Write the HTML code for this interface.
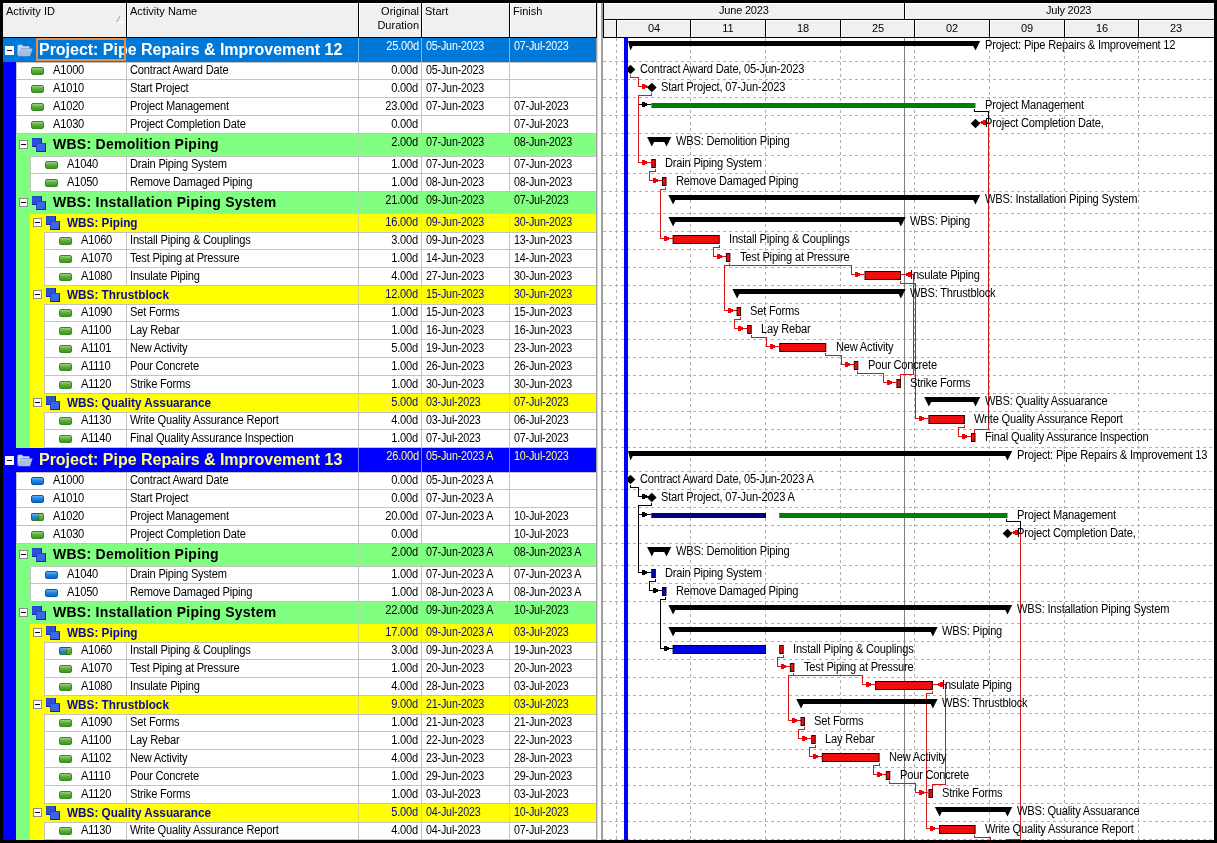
<!DOCTYPE html>
<html lang="en"><head><meta charset="utf-8"><title>Activities</title>
<style>
html,body{margin:0;padding:0;}
body{width:1217px;height:843px;background:#000;position:relative;overflow:hidden;font-family:"Liberation Sans",Arial,sans-serif;font-size:11px;color:#000;}
div,span{position:absolute;box-sizing:border-box;white-space:nowrap;}
.t{font-size:12px;letter-spacing:-0.22px;line-height:14px;height:14px;transform:scaleX(0.925);transform-origin:0 0;}
.t.r{text-align:right;transform-origin:100% 0;}
.t.c{text-align:center;transform-origin:50% 0;}
.t.d{transform:scaleX(0.895);}
.h{font-size:11px;line-height:14px;height:14px;}
.h.r{text-align:right;}
.h.c{text-align:center;}
.b{font-weight:bold;}
.hd{background:#f0f0f0;}
.ex{width:9px;height:9px;background:#fff;border:1px solid #8c8c8c;}
.ex i{position:absolute;left:1px;top:3px;width:5px;height:1px;background:#000;}
.ic{width:13px;height:8px;border-radius:2px;border:1px solid #3a8a22;background:linear-gradient(#9ed27f,#5cae3c 45%,#3f9524);}
.ic.b{border-color:#0a58b0;background:linear-gradient(#5cb4f5,#1f86e2 45%,#0868cc);}
.ic.h{border-color:#0a58b0 #3a8a22 #2f7d1c #0a58b0;background:linear-gradient(rgba(255,255,255,.35),rgba(255,255,255,0) 50%,rgba(0,0,0,.12)),linear-gradient(90deg,#1f86e2 58%,#2f7d1c 58%,#2f7d1c 66%,#5cae3c 66%);}
.w1,.w2{width:10px;height:9px;border:1px solid;border-color:#2747cc #14248c #14248c #2747cc;background:#3a66ee;}
.w1{background:#2b51da;}
svg{position:absolute;left:0;top:0;}
</style></head><body>

<div style="left:3px;top:3px;width:594px;height:837px;background:#fff;"></div>
<div class="hd" style="left:3px;top:3px;width:594px;height:34px;"></div>
<div style="left:3px;top:3px;width:594px;height:1px;background:#fff;"></div>
<div style="left:3px;top:37px;width:594px;height:1px;background:#000;"></div>
<div style="left:126px;top:3px;width:1px;height:34px;background:#000;"></div>
<div style="left:127px;top:4px;width:1px;height:33px;background:#fff;"></div>
<div style="left:358px;top:3px;width:1px;height:34px;background:#000;"></div>
<div style="left:359px;top:4px;width:1px;height:33px;background:#fff;"></div>
<div style="left:421px;top:3px;width:1px;height:34px;background:#000;"></div>
<div style="left:422px;top:4px;width:1px;height:33px;background:#fff;"></div>
<div style="left:509px;top:3px;width:1px;height:34px;background:#000;"></div>
<div style="left:510px;top:4px;width:1px;height:33px;background:#fff;"></div>
<div style="left:596px;top:3px;width:1px;height:35px;background:#000;"></div>
<svg width="1217" height="40" style="pointer-events:none"><path d="M116.5 22.5 L120 16 L123.5 22.5" fill="none" stroke="#fff" stroke-width="1"/><path d="M116.5 22.5 L120 16" fill="none" stroke="#9a9a9a" stroke-width="1"/><path d="M116.5 22.5 H123.5" fill="none" stroke="#fff"/></svg>
<div class="h" style="left:6px;top:4px;">Activity ID</div>
<div class="h" style="left:130px;top:4px;">Activity Name</div>
<div class="h r" style="left:362px;top:4px;width:57px;">Original</div>
<div class="h r" style="left:362px;top:18px;width:57px;">Duration</div>
<div class="h" style="left:425px;top:4px;">Start</div>
<div class="h" style="left:513px;top:4px;">Finish</div>
<div style="left:3px;top:38px;width:593px;height:24px;background:#0078d7;"></div>
<div style="left:358px;top:38px;width:1px;height:24px;background:rgba(255,255,255,0.45);"></div>
<div style="left:421px;top:38px;width:1px;height:24px;background:rgba(255,255,255,0.45);"></div>
<div style="left:509px;top:38px;width:1px;height:24px;background:rgba(255,255,255,0.45);"></div>
<div class="ex" style="left:5px;top:46px;border-color:#fff"><i></i></div>
<svg width="16" height="13" viewBox="0 0 16 13" style="left:17px;top:44px"><path d="M0.5 2.2 Q0.5 0.8 1.8 0.8 H5 L6.2 2.2 H11.6 Q12.6 2.2 12.6 3.2 V4.5 H4 L1.2 11.5 H0.5 Z" fill="#c9d6ec"/><path d="M3.6 4.6 H15.6 L13 12.2 H1 Z" fill="#a9bce0"/><path d="M3.9 5.2 H14.8 L14.4 6.6 H3.4 Z" fill="#bccbe8"/></svg>
<div class="b" style="left:39px;top:41px;font-size:16px;line-height:18px;color:#fff;letter-spacing:-0.02px;transform:translateY(-0.5px);">Project: Pipe Repairs &amp; Improvement 12</div>
<div style="left:36px;top:38px;width:90px;height:23px;border:2px solid #ea9147;"></div>
<div class="t r" style="left:362px;top:39px;width:57px;color:#fff;">25.00d</div>
<div class="t d" style="left:426px;top:39px;color:#fff;">05-Jun-2023</div>
<div class="t d" style="left:514px;top:39px;color:#fff;">07-Jul-2023</div>
<div style="left:3px;top:62px;width:13px;height:18px;background:#0000ff;"></div>
<div style="left:16px;top:62px;width:1px;height:18px;background:#c3c3c3;"></div>
<div style="left:16px;top:79px;width:580px;height:1px;background:#c3c3c3;"></div>
<div style="left:126px;top:62px;width:1px;height:18px;background:#c3c3c3;"></div>
<div style="left:358px;top:62px;width:1px;height:18px;background:#c3c3c3;"></div>
<div style="left:421px;top:62px;width:1px;height:18px;background:#c3c3c3;"></div>
<div style="left:509px;top:62px;width:1px;height:18px;background:#c3c3c3;"></div>
<div class="ic " style="left:31px;top:67px"></div>
<div class="t" style="left:53px;top:63px;">A1000</div>
<div class="t" style="left:130px;top:63px;">Contract Award Date</div>
<div class="t r" style="left:362px;top:63px;width:56px;">0.00d</div>
<div class="t d" style="left:426px;top:63px;">05-Jun-2023</div>
<div class="t d" style="left:514px;top:63px;"></div>
<div style="left:3px;top:80px;width:13px;height:18px;background:#0000ff;"></div>
<div style="left:16px;top:80px;width:1px;height:18px;background:#c3c3c3;"></div>
<div style="left:16px;top:97px;width:580px;height:1px;background:#c3c3c3;"></div>
<div style="left:126px;top:80px;width:1px;height:18px;background:#c3c3c3;"></div>
<div style="left:358px;top:80px;width:1px;height:18px;background:#c3c3c3;"></div>
<div style="left:421px;top:80px;width:1px;height:18px;background:#c3c3c3;"></div>
<div style="left:509px;top:80px;width:1px;height:18px;background:#c3c3c3;"></div>
<div class="ic " style="left:31px;top:85px"></div>
<div class="t" style="left:53px;top:81px;">A1010</div>
<div class="t" style="left:130px;top:81px;">Start Project</div>
<div class="t r" style="left:362px;top:81px;width:56px;">0.00d</div>
<div class="t d" style="left:426px;top:81px;">07-Jun-2023</div>
<div class="t d" style="left:514px;top:81px;"></div>
<div style="left:3px;top:98px;width:13px;height:18px;background:#0000ff;"></div>
<div style="left:16px;top:98px;width:1px;height:18px;background:#c3c3c3;"></div>
<div style="left:16px;top:115px;width:580px;height:1px;background:#c3c3c3;"></div>
<div style="left:126px;top:98px;width:1px;height:18px;background:#c3c3c3;"></div>
<div style="left:358px;top:98px;width:1px;height:18px;background:#c3c3c3;"></div>
<div style="left:421px;top:98px;width:1px;height:18px;background:#c3c3c3;"></div>
<div style="left:509px;top:98px;width:1px;height:18px;background:#c3c3c3;"></div>
<div class="ic " style="left:31px;top:103px"></div>
<div class="t" style="left:53px;top:99px;">A1020</div>
<div class="t" style="left:130px;top:99px;">Project Management</div>
<div class="t r" style="left:362px;top:99px;width:56px;">23.00d</div>
<div class="t d" style="left:426px;top:99px;">07-Jun-2023</div>
<div class="t d" style="left:514px;top:99px;">07-Jul-2023</div>
<div style="left:3px;top:116px;width:13px;height:18px;background:#0000ff;"></div>
<div style="left:16px;top:116px;width:1px;height:18px;background:#c3c3c3;"></div>
<div style="left:16px;top:133px;width:580px;height:1px;background:#c3c3c3;"></div>
<div style="left:126px;top:116px;width:1px;height:18px;background:#c3c3c3;"></div>
<div style="left:358px;top:116px;width:1px;height:18px;background:#c3c3c3;"></div>
<div style="left:421px;top:116px;width:1px;height:18px;background:#c3c3c3;"></div>
<div style="left:509px;top:116px;width:1px;height:18px;background:#c3c3c3;"></div>
<div class="ic " style="left:31px;top:121px"></div>
<div class="t" style="left:53px;top:117px;">A1030</div>
<div class="t" style="left:130px;top:117px;">Project Completion Date</div>
<div class="t r" style="left:362px;top:117px;width:56px;">0.00d</div>
<div class="t d" style="left:426px;top:117px;"></div>
<div class="t d" style="left:514px;top:117px;">07-Jul-2023</div>
<div style="left:3px;top:134px;width:13px;height:22px;background:#0000ff;"></div>
<div style="left:16px;top:134px;width:14px;height:22px;background:#80ff80;"></div>
<div style="left:16px;top:134px;width:580px;height:22px;background:#80ff80;"></div>
<div style="left:358px;top:134px;width:1px;height:22px;background:rgba(200,200,200,0.6);"></div>
<div style="left:421px;top:134px;width:1px;height:22px;background:rgba(200,200,200,0.6);"></div>
<div style="left:509px;top:134px;width:1px;height:22px;background:rgba(200,200,200,0.6);"></div>
<div class="ex" style="left:19px;top:140px"><i></i></div>
<div class="w1" style="left:32px;top:138px"></div><div class="w2" style="left:36px;top:143px"></div>
<div class="b" style="left:53px;top:135px;font-size:14px;line-height:18px;letter-spacing:0.26px;">WBS: Demolition Piping</div>
<div class="t r" style="left:362px;top:135px;width:56px;">2.00d</div>
<div class="t d" style="left:426px;top:135px;">07-Jun-2023</div>
<div class="t d" style="left:514px;top:135px;">08-Jun-2023</div>
<div style="left:3px;top:156px;width:13px;height:18px;background:#0000ff;"></div>
<div style="left:16px;top:156px;width:14px;height:18px;background:#80ff80;"></div>
<div style="left:30px;top:156px;width:1px;height:18px;background:#c3c3c3;"></div>
<div style="left:30px;top:173px;width:566px;height:1px;background:#c3c3c3;"></div>
<div style="left:126px;top:156px;width:1px;height:18px;background:#c3c3c3;"></div>
<div style="left:358px;top:156px;width:1px;height:18px;background:#c3c3c3;"></div>
<div style="left:421px;top:156px;width:1px;height:18px;background:#c3c3c3;"></div>
<div style="left:509px;top:156px;width:1px;height:18px;background:#c3c3c3;"></div>
<div class="ic " style="left:45px;top:161px"></div>
<div class="t" style="left:67px;top:157px;">A1040</div>
<div class="t" style="left:130px;top:157px;">Drain Piping System</div>
<div class="t r" style="left:362px;top:157px;width:56px;">1.00d</div>
<div class="t d" style="left:426px;top:157px;">07-Jun-2023</div>
<div class="t d" style="left:514px;top:157px;">07-Jun-2023</div>
<div style="left:3px;top:174px;width:13px;height:18px;background:#0000ff;"></div>
<div style="left:16px;top:174px;width:14px;height:18px;background:#80ff80;"></div>
<div style="left:30px;top:174px;width:1px;height:18px;background:#c3c3c3;"></div>
<div style="left:30px;top:191px;width:566px;height:1px;background:#c3c3c3;"></div>
<div style="left:126px;top:174px;width:1px;height:18px;background:#c3c3c3;"></div>
<div style="left:358px;top:174px;width:1px;height:18px;background:#c3c3c3;"></div>
<div style="left:421px;top:174px;width:1px;height:18px;background:#c3c3c3;"></div>
<div style="left:509px;top:174px;width:1px;height:18px;background:#c3c3c3;"></div>
<div class="ic " style="left:45px;top:179px"></div>
<div class="t" style="left:67px;top:175px;">A1050</div>
<div class="t" style="left:130px;top:175px;">Remove Damaged Piping</div>
<div class="t r" style="left:362px;top:175px;width:56px;">1.00d</div>
<div class="t d" style="left:426px;top:175px;">08-Jun-2023</div>
<div class="t d" style="left:514px;top:175px;">08-Jun-2023</div>
<div style="left:3px;top:192px;width:13px;height:22px;background:#0000ff;"></div>
<div style="left:16px;top:192px;width:14px;height:22px;background:#80ff80;"></div>
<div style="left:16px;top:192px;width:580px;height:22px;background:#80ff80;"></div>
<div style="left:358px;top:192px;width:1px;height:22px;background:rgba(200,200,200,0.6);"></div>
<div style="left:421px;top:192px;width:1px;height:22px;background:rgba(200,200,200,0.6);"></div>
<div style="left:509px;top:192px;width:1px;height:22px;background:rgba(200,200,200,0.6);"></div>
<div class="ex" style="left:19px;top:198px"><i></i></div>
<div class="w1" style="left:32px;top:196px"></div><div class="w2" style="left:36px;top:201px"></div>
<div class="b" style="left:53px;top:193px;font-size:14px;line-height:18px;letter-spacing:0.26px;">WBS: Installation Piping System</div>
<div class="t r" style="left:362px;top:193px;width:56px;">21.00d</div>
<div class="t d" style="left:426px;top:193px;">09-Jun-2023</div>
<div class="t d" style="left:514px;top:193px;">07-Jul-2023</div>
<div style="left:3px;top:214px;width:13px;height:18px;background:#0000ff;"></div>
<div style="left:16px;top:214px;width:14px;height:18px;background:#80ff80;"></div>
<div style="left:30px;top:214px;width:566px;height:18px;background:#ffff00;"></div>
<div style="left:358px;top:214px;width:1px;height:18px;background:rgba(200,200,200,0.6);"></div>
<div style="left:421px;top:214px;width:1px;height:18px;background:rgba(200,200,200,0.6);"></div>
<div style="left:509px;top:214px;width:1px;height:18px;background:rgba(200,200,200,0.6);"></div>
<div class="ex" style="left:33px;top:218px"><i></i></div>
<div class="w1" style="left:46px;top:216px"></div><div class="w2" style="left:50px;top:221px"></div>
<div class="b" style="left:67px;top:216px;font-size:12px;line-height:14px;color:#0a0a9a;transform:scaleX(0.98);transform-origin:0 0;">WBS: Piping</div>
<div class="t r" style="left:362px;top:215px;width:56px;color:#0a0a8c;">16.00d</div>
<div class="t d" style="left:426px;top:215px;color:#0a0a8c;">09-Jun-2023</div>
<div class="t d" style="left:514px;top:215px;color:#0a0a8c;">30-Jun-2023</div>
<div style="left:3px;top:232px;width:13px;height:18px;background:#0000ff;"></div>
<div style="left:16px;top:232px;width:14px;height:18px;background:#80ff80;"></div>
<div style="left:30px;top:232px;width:14px;height:18px;background:#ffff00;"></div>
<div style="left:44px;top:232px;width:1px;height:18px;background:#c3c3c3;"></div>
<div style="left:44px;top:249px;width:552px;height:1px;background:#c3c3c3;"></div>
<div style="left:126px;top:232px;width:1px;height:18px;background:#c3c3c3;"></div>
<div style="left:358px;top:232px;width:1px;height:18px;background:#c3c3c3;"></div>
<div style="left:421px;top:232px;width:1px;height:18px;background:#c3c3c3;"></div>
<div style="left:509px;top:232px;width:1px;height:18px;background:#c3c3c3;"></div>
<div class="ic " style="left:59px;top:237px"></div>
<div class="t" style="left:81px;top:233px;">A1060</div>
<div class="t" style="left:130px;top:233px;">Install Piping &amp; Couplings</div>
<div class="t r" style="left:362px;top:233px;width:56px;">3.00d</div>
<div class="t d" style="left:426px;top:233px;">09-Jun-2023</div>
<div class="t d" style="left:514px;top:233px;">13-Jun-2023</div>
<div style="left:3px;top:250px;width:13px;height:18px;background:#0000ff;"></div>
<div style="left:16px;top:250px;width:14px;height:18px;background:#80ff80;"></div>
<div style="left:30px;top:250px;width:14px;height:18px;background:#ffff00;"></div>
<div style="left:44px;top:250px;width:1px;height:18px;background:#c3c3c3;"></div>
<div style="left:44px;top:267px;width:552px;height:1px;background:#c3c3c3;"></div>
<div style="left:126px;top:250px;width:1px;height:18px;background:#c3c3c3;"></div>
<div style="left:358px;top:250px;width:1px;height:18px;background:#c3c3c3;"></div>
<div style="left:421px;top:250px;width:1px;height:18px;background:#c3c3c3;"></div>
<div style="left:509px;top:250px;width:1px;height:18px;background:#c3c3c3;"></div>
<div class="ic " style="left:59px;top:255px"></div>
<div class="t" style="left:81px;top:251px;">A1070</div>
<div class="t" style="left:130px;top:251px;">Test Piping at Pressure</div>
<div class="t r" style="left:362px;top:251px;width:56px;">1.00d</div>
<div class="t d" style="left:426px;top:251px;">14-Jun-2023</div>
<div class="t d" style="left:514px;top:251px;">14-Jun-2023</div>
<div style="left:3px;top:268px;width:13px;height:18px;background:#0000ff;"></div>
<div style="left:16px;top:268px;width:14px;height:18px;background:#80ff80;"></div>
<div style="left:30px;top:268px;width:14px;height:18px;background:#ffff00;"></div>
<div style="left:44px;top:268px;width:1px;height:18px;background:#c3c3c3;"></div>
<div style="left:44px;top:285px;width:552px;height:1px;background:#c3c3c3;"></div>
<div style="left:126px;top:268px;width:1px;height:18px;background:#c3c3c3;"></div>
<div style="left:358px;top:268px;width:1px;height:18px;background:#c3c3c3;"></div>
<div style="left:421px;top:268px;width:1px;height:18px;background:#c3c3c3;"></div>
<div style="left:509px;top:268px;width:1px;height:18px;background:#c3c3c3;"></div>
<div class="ic " style="left:59px;top:273px"></div>
<div class="t" style="left:81px;top:269px;">A1080</div>
<div class="t" style="left:130px;top:269px;">Insulate Piping</div>
<div class="t r" style="left:362px;top:269px;width:56px;">4.00d</div>
<div class="t d" style="left:426px;top:269px;">27-Jun-2023</div>
<div class="t d" style="left:514px;top:269px;">30-Jun-2023</div>
<div style="left:3px;top:286px;width:13px;height:18px;background:#0000ff;"></div>
<div style="left:16px;top:286px;width:14px;height:18px;background:#80ff80;"></div>
<div style="left:30px;top:286px;width:566px;height:18px;background:#ffff00;"></div>
<div style="left:358px;top:286px;width:1px;height:18px;background:rgba(200,200,200,0.6);"></div>
<div style="left:421px;top:286px;width:1px;height:18px;background:rgba(200,200,200,0.6);"></div>
<div style="left:509px;top:286px;width:1px;height:18px;background:rgba(200,200,200,0.6);"></div>
<div class="ex" style="left:33px;top:290px"><i></i></div>
<div class="w1" style="left:46px;top:288px"></div><div class="w2" style="left:50px;top:293px"></div>
<div class="b" style="left:67px;top:288px;font-size:12px;line-height:14px;color:#0a0a9a;transform:scaleX(0.98);transform-origin:0 0;">WBS: Thrustblock</div>
<div class="t r" style="left:362px;top:287px;width:56px;color:#0a0a8c;">12.00d</div>
<div class="t d" style="left:426px;top:287px;color:#0a0a8c;">15-Jun-2023</div>
<div class="t d" style="left:514px;top:287px;color:#0a0a8c;">30-Jun-2023</div>
<div style="left:3px;top:304px;width:13px;height:18px;background:#0000ff;"></div>
<div style="left:16px;top:304px;width:14px;height:18px;background:#80ff80;"></div>
<div style="left:30px;top:304px;width:14px;height:18px;background:#ffff00;"></div>
<div style="left:44px;top:304px;width:1px;height:18px;background:#c3c3c3;"></div>
<div style="left:44px;top:321px;width:552px;height:1px;background:#c3c3c3;"></div>
<div style="left:126px;top:304px;width:1px;height:18px;background:#c3c3c3;"></div>
<div style="left:358px;top:304px;width:1px;height:18px;background:#c3c3c3;"></div>
<div style="left:421px;top:304px;width:1px;height:18px;background:#c3c3c3;"></div>
<div style="left:509px;top:304px;width:1px;height:18px;background:#c3c3c3;"></div>
<div class="ic " style="left:59px;top:309px"></div>
<div class="t" style="left:81px;top:305px;">A1090</div>
<div class="t" style="left:130px;top:305px;">Set Forms</div>
<div class="t r" style="left:362px;top:305px;width:56px;">1.00d</div>
<div class="t d" style="left:426px;top:305px;">15-Jun-2023</div>
<div class="t d" style="left:514px;top:305px;">15-Jun-2023</div>
<div style="left:3px;top:322px;width:13px;height:18px;background:#0000ff;"></div>
<div style="left:16px;top:322px;width:14px;height:18px;background:#80ff80;"></div>
<div style="left:30px;top:322px;width:14px;height:18px;background:#ffff00;"></div>
<div style="left:44px;top:322px;width:1px;height:18px;background:#c3c3c3;"></div>
<div style="left:44px;top:339px;width:552px;height:1px;background:#c3c3c3;"></div>
<div style="left:126px;top:322px;width:1px;height:18px;background:#c3c3c3;"></div>
<div style="left:358px;top:322px;width:1px;height:18px;background:#c3c3c3;"></div>
<div style="left:421px;top:322px;width:1px;height:18px;background:#c3c3c3;"></div>
<div style="left:509px;top:322px;width:1px;height:18px;background:#c3c3c3;"></div>
<div class="ic " style="left:59px;top:327px"></div>
<div class="t" style="left:81px;top:323px;">A1100</div>
<div class="t" style="left:130px;top:323px;">Lay Rebar</div>
<div class="t r" style="left:362px;top:323px;width:56px;">1.00d</div>
<div class="t d" style="left:426px;top:323px;">16-Jun-2023</div>
<div class="t d" style="left:514px;top:323px;">16-Jun-2023</div>
<div style="left:3px;top:340px;width:13px;height:18px;background:#0000ff;"></div>
<div style="left:16px;top:340px;width:14px;height:18px;background:#80ff80;"></div>
<div style="left:30px;top:340px;width:14px;height:18px;background:#ffff00;"></div>
<div style="left:44px;top:340px;width:1px;height:18px;background:#c3c3c3;"></div>
<div style="left:44px;top:357px;width:552px;height:1px;background:#c3c3c3;"></div>
<div style="left:126px;top:340px;width:1px;height:18px;background:#c3c3c3;"></div>
<div style="left:358px;top:340px;width:1px;height:18px;background:#c3c3c3;"></div>
<div style="left:421px;top:340px;width:1px;height:18px;background:#c3c3c3;"></div>
<div style="left:509px;top:340px;width:1px;height:18px;background:#c3c3c3;"></div>
<div class="ic " style="left:59px;top:345px"></div>
<div class="t" style="left:81px;top:341px;">A1101</div>
<div class="t" style="left:130px;top:341px;">New Activity</div>
<div class="t r" style="left:362px;top:341px;width:56px;">5.00d</div>
<div class="t d" style="left:426px;top:341px;">19-Jun-2023</div>
<div class="t d" style="left:514px;top:341px;">23-Jun-2023</div>
<div style="left:3px;top:358px;width:13px;height:18px;background:#0000ff;"></div>
<div style="left:16px;top:358px;width:14px;height:18px;background:#80ff80;"></div>
<div style="left:30px;top:358px;width:14px;height:18px;background:#ffff00;"></div>
<div style="left:44px;top:358px;width:1px;height:18px;background:#c3c3c3;"></div>
<div style="left:44px;top:375px;width:552px;height:1px;background:#c3c3c3;"></div>
<div style="left:126px;top:358px;width:1px;height:18px;background:#c3c3c3;"></div>
<div style="left:358px;top:358px;width:1px;height:18px;background:#c3c3c3;"></div>
<div style="left:421px;top:358px;width:1px;height:18px;background:#c3c3c3;"></div>
<div style="left:509px;top:358px;width:1px;height:18px;background:#c3c3c3;"></div>
<div class="ic " style="left:59px;top:363px"></div>
<div class="t" style="left:81px;top:359px;">A1110</div>
<div class="t" style="left:130px;top:359px;">Pour Concrete</div>
<div class="t r" style="left:362px;top:359px;width:56px;">1.00d</div>
<div class="t d" style="left:426px;top:359px;">26-Jun-2023</div>
<div class="t d" style="left:514px;top:359px;">26-Jun-2023</div>
<div style="left:3px;top:376px;width:13px;height:18px;background:#0000ff;"></div>
<div style="left:16px;top:376px;width:14px;height:18px;background:#80ff80;"></div>
<div style="left:30px;top:376px;width:14px;height:18px;background:#ffff00;"></div>
<div style="left:44px;top:376px;width:1px;height:18px;background:#c3c3c3;"></div>
<div style="left:44px;top:393px;width:552px;height:1px;background:#c3c3c3;"></div>
<div style="left:126px;top:376px;width:1px;height:18px;background:#c3c3c3;"></div>
<div style="left:358px;top:376px;width:1px;height:18px;background:#c3c3c3;"></div>
<div style="left:421px;top:376px;width:1px;height:18px;background:#c3c3c3;"></div>
<div style="left:509px;top:376px;width:1px;height:18px;background:#c3c3c3;"></div>
<div class="ic " style="left:59px;top:381px"></div>
<div class="t" style="left:81px;top:377px;">A1120</div>
<div class="t" style="left:130px;top:377px;">Strike Forms</div>
<div class="t r" style="left:362px;top:377px;width:56px;">1.00d</div>
<div class="t d" style="left:426px;top:377px;">30-Jun-2023</div>
<div class="t d" style="left:514px;top:377px;">30-Jun-2023</div>
<div style="left:3px;top:394px;width:13px;height:18px;background:#0000ff;"></div>
<div style="left:16px;top:394px;width:14px;height:18px;background:#80ff80;"></div>
<div style="left:30px;top:394px;width:566px;height:18px;background:#ffff00;"></div>
<div style="left:358px;top:394px;width:1px;height:18px;background:rgba(200,200,200,0.6);"></div>
<div style="left:421px;top:394px;width:1px;height:18px;background:rgba(200,200,200,0.6);"></div>
<div style="left:509px;top:394px;width:1px;height:18px;background:rgba(200,200,200,0.6);"></div>
<div class="ex" style="left:33px;top:398px"><i></i></div>
<div class="w1" style="left:46px;top:396px"></div><div class="w2" style="left:50px;top:401px"></div>
<div class="b" style="left:67px;top:396px;font-size:12px;line-height:14px;color:#0a0a9a;transform:scaleX(0.98);transform-origin:0 0;">WBS: Quality Assuarance</div>
<div class="t r" style="left:362px;top:395px;width:56px;color:#0a0a8c;">5.00d</div>
<div class="t d" style="left:426px;top:395px;color:#0a0a8c;">03-Jul-2023</div>
<div class="t d" style="left:514px;top:395px;color:#0a0a8c;">07-Jul-2023</div>
<div style="left:3px;top:412px;width:13px;height:18px;background:#0000ff;"></div>
<div style="left:16px;top:412px;width:14px;height:18px;background:#80ff80;"></div>
<div style="left:30px;top:412px;width:14px;height:18px;background:#ffff00;"></div>
<div style="left:44px;top:412px;width:1px;height:18px;background:#c3c3c3;"></div>
<div style="left:44px;top:429px;width:552px;height:1px;background:#c3c3c3;"></div>
<div style="left:126px;top:412px;width:1px;height:18px;background:#c3c3c3;"></div>
<div style="left:358px;top:412px;width:1px;height:18px;background:#c3c3c3;"></div>
<div style="left:421px;top:412px;width:1px;height:18px;background:#c3c3c3;"></div>
<div style="left:509px;top:412px;width:1px;height:18px;background:#c3c3c3;"></div>
<div class="ic " style="left:59px;top:417px"></div>
<div class="t" style="left:81px;top:413px;">A1130</div>
<div class="t" style="left:130px;top:413px;">Write Quality Assurance Report</div>
<div class="t r" style="left:362px;top:413px;width:56px;">4.00d</div>
<div class="t d" style="left:426px;top:413px;">03-Jul-2023</div>
<div class="t d" style="left:514px;top:413px;">06-Jul-2023</div>
<div style="left:3px;top:430px;width:13px;height:18px;background:#0000ff;"></div>
<div style="left:16px;top:430px;width:14px;height:18px;background:#80ff80;"></div>
<div style="left:30px;top:430px;width:14px;height:18px;background:#ffff00;"></div>
<div style="left:44px;top:430px;width:1px;height:18px;background:#c3c3c3;"></div>
<div style="left:44px;top:447px;width:552px;height:1px;background:#c3c3c3;"></div>
<div style="left:126px;top:430px;width:1px;height:18px;background:#c3c3c3;"></div>
<div style="left:358px;top:430px;width:1px;height:18px;background:#c3c3c3;"></div>
<div style="left:421px;top:430px;width:1px;height:18px;background:#c3c3c3;"></div>
<div style="left:509px;top:430px;width:1px;height:18px;background:#c3c3c3;"></div>
<div class="ic " style="left:59px;top:435px"></div>
<div class="t" style="left:81px;top:431px;">A1140</div>
<div class="t" style="left:130px;top:431px;">Final Quality Assurance Inspection</div>
<div class="t r" style="left:362px;top:431px;width:56px;">1.00d</div>
<div class="t d" style="left:426px;top:431px;">07-Jul-2023</div>
<div class="t d" style="left:514px;top:431px;">07-Jul-2023</div>
<div style="left:3px;top:448px;width:593px;height:24px;background:#0000ff;"></div>
<div style="left:358px;top:448px;width:1px;height:24px;background:rgba(255,255,255,0.45);"></div>
<div style="left:421px;top:448px;width:1px;height:24px;background:rgba(255,255,255,0.45);"></div>
<div style="left:509px;top:448px;width:1px;height:24px;background:rgba(255,255,255,0.45);"></div>
<div class="ex" style="left:5px;top:456px;border-color:#fff"><i></i></div>
<svg width="16" height="13" viewBox="0 0 16 13" style="left:17px;top:454px"><path d="M0.5 2.2 Q0.5 0.8 1.8 0.8 H5 L6.2 2.2 H11.6 Q12.6 2.2 12.6 3.2 V4.5 H4 L1.2 11.5 H0.5 Z" fill="#c9d6ec"/><path d="M3.6 4.6 H15.6 L13 12.2 H1 Z" fill="#a9bce0"/><path d="M3.9 5.2 H14.8 L14.4 6.6 H3.4 Z" fill="#bccbe8"/></svg>
<div class="b" style="left:39px;top:451px;font-size:16px;line-height:18px;color:#ffff7a;letter-spacing:-0.02px;transform:translateY(-0.5px);">Project: Pipe Repairs &amp; Improvement 13</div>
<div class="t r" style="left:362px;top:449px;width:57px;color:#ffff7a;">26.00d</div>
<div class="t d" style="left:426px;top:449px;color:#ffff7a;">05-Jun-2023 A</div>
<div class="t d" style="left:514px;top:449px;color:#ffff7a;">10-Jul-2023</div>
<div style="left:3px;top:472px;width:13px;height:18px;background:#0000ff;"></div>
<div style="left:16px;top:472px;width:1px;height:18px;background:#c3c3c3;"></div>
<div style="left:16px;top:489px;width:580px;height:1px;background:#c3c3c3;"></div>
<div style="left:126px;top:472px;width:1px;height:18px;background:#c3c3c3;"></div>
<div style="left:358px;top:472px;width:1px;height:18px;background:#c3c3c3;"></div>
<div style="left:421px;top:472px;width:1px;height:18px;background:#c3c3c3;"></div>
<div style="left:509px;top:472px;width:1px;height:18px;background:#c3c3c3;"></div>
<div class="ic b" style="left:31px;top:477px"></div>
<div class="t" style="left:53px;top:473px;">A1000</div>
<div class="t" style="left:130px;top:473px;">Contract Award Date</div>
<div class="t r" style="left:362px;top:473px;width:56px;">0.00d</div>
<div class="t d" style="left:426px;top:473px;">05-Jun-2023 A</div>
<div class="t d" style="left:514px;top:473px;"></div>
<div style="left:3px;top:490px;width:13px;height:18px;background:#0000ff;"></div>
<div style="left:16px;top:490px;width:1px;height:18px;background:#c3c3c3;"></div>
<div style="left:16px;top:507px;width:580px;height:1px;background:#c3c3c3;"></div>
<div style="left:126px;top:490px;width:1px;height:18px;background:#c3c3c3;"></div>
<div style="left:358px;top:490px;width:1px;height:18px;background:#c3c3c3;"></div>
<div style="left:421px;top:490px;width:1px;height:18px;background:#c3c3c3;"></div>
<div style="left:509px;top:490px;width:1px;height:18px;background:#c3c3c3;"></div>
<div class="ic b" style="left:31px;top:495px"></div>
<div class="t" style="left:53px;top:491px;">A1010</div>
<div class="t" style="left:130px;top:491px;">Start Project</div>
<div class="t r" style="left:362px;top:491px;width:56px;">0.00d</div>
<div class="t d" style="left:426px;top:491px;">07-Jun-2023 A</div>
<div class="t d" style="left:514px;top:491px;"></div>
<div style="left:3px;top:508px;width:13px;height:18px;background:#0000ff;"></div>
<div style="left:16px;top:508px;width:1px;height:18px;background:#c3c3c3;"></div>
<div style="left:16px;top:525px;width:580px;height:1px;background:#c3c3c3;"></div>
<div style="left:126px;top:508px;width:1px;height:18px;background:#c3c3c3;"></div>
<div style="left:358px;top:508px;width:1px;height:18px;background:#c3c3c3;"></div>
<div style="left:421px;top:508px;width:1px;height:18px;background:#c3c3c3;"></div>
<div style="left:509px;top:508px;width:1px;height:18px;background:#c3c3c3;"></div>
<div class="ic h" style="left:31px;top:513px"></div>
<div class="t" style="left:53px;top:509px;">A1020</div>
<div class="t" style="left:130px;top:509px;">Project Management</div>
<div class="t r" style="left:362px;top:509px;width:56px;">20.00d</div>
<div class="t d" style="left:426px;top:509px;">07-Jun-2023 A</div>
<div class="t d" style="left:514px;top:509px;">10-Jul-2023</div>
<div style="left:3px;top:526px;width:13px;height:18px;background:#0000ff;"></div>
<div style="left:16px;top:526px;width:1px;height:18px;background:#c3c3c3;"></div>
<div style="left:16px;top:543px;width:580px;height:1px;background:#c3c3c3;"></div>
<div style="left:126px;top:526px;width:1px;height:18px;background:#c3c3c3;"></div>
<div style="left:358px;top:526px;width:1px;height:18px;background:#c3c3c3;"></div>
<div style="left:421px;top:526px;width:1px;height:18px;background:#c3c3c3;"></div>
<div style="left:509px;top:526px;width:1px;height:18px;background:#c3c3c3;"></div>
<div class="ic " style="left:31px;top:531px"></div>
<div class="t" style="left:53px;top:527px;">A1030</div>
<div class="t" style="left:130px;top:527px;">Project Completion Date</div>
<div class="t r" style="left:362px;top:527px;width:56px;">0.00d</div>
<div class="t d" style="left:426px;top:527px;"></div>
<div class="t d" style="left:514px;top:527px;">10-Jul-2023</div>
<div style="left:3px;top:544px;width:13px;height:22px;background:#0000ff;"></div>
<div style="left:16px;top:544px;width:14px;height:22px;background:#80ff80;"></div>
<div style="left:16px;top:544px;width:580px;height:22px;background:#80ff80;"></div>
<div style="left:358px;top:544px;width:1px;height:22px;background:rgba(200,200,200,0.6);"></div>
<div style="left:421px;top:544px;width:1px;height:22px;background:rgba(200,200,200,0.6);"></div>
<div style="left:509px;top:544px;width:1px;height:22px;background:rgba(200,200,200,0.6);"></div>
<div class="ex" style="left:19px;top:550px"><i></i></div>
<div class="w1" style="left:32px;top:548px"></div><div class="w2" style="left:36px;top:553px"></div>
<div class="b" style="left:53px;top:545px;font-size:14px;line-height:18px;letter-spacing:0.26px;">WBS: Demolition Piping</div>
<div class="t r" style="left:362px;top:545px;width:56px;">2.00d</div>
<div class="t d" style="left:426px;top:545px;">07-Jun-2023 A</div>
<div class="t d" style="left:514px;top:545px;">08-Jun-2023 A</div>
<div style="left:3px;top:566px;width:13px;height:18px;background:#0000ff;"></div>
<div style="left:16px;top:566px;width:14px;height:18px;background:#80ff80;"></div>
<div style="left:30px;top:566px;width:1px;height:18px;background:#c3c3c3;"></div>
<div style="left:30px;top:583px;width:566px;height:1px;background:#c3c3c3;"></div>
<div style="left:126px;top:566px;width:1px;height:18px;background:#c3c3c3;"></div>
<div style="left:358px;top:566px;width:1px;height:18px;background:#c3c3c3;"></div>
<div style="left:421px;top:566px;width:1px;height:18px;background:#c3c3c3;"></div>
<div style="left:509px;top:566px;width:1px;height:18px;background:#c3c3c3;"></div>
<div class="ic b" style="left:45px;top:571px"></div>
<div class="t" style="left:67px;top:567px;">A1040</div>
<div class="t" style="left:130px;top:567px;">Drain Piping System</div>
<div class="t r" style="left:362px;top:567px;width:56px;">1.00d</div>
<div class="t d" style="left:426px;top:567px;">07-Jun-2023 A</div>
<div class="t d" style="left:514px;top:567px;">07-Jun-2023 A</div>
<div style="left:3px;top:584px;width:13px;height:18px;background:#0000ff;"></div>
<div style="left:16px;top:584px;width:14px;height:18px;background:#80ff80;"></div>
<div style="left:30px;top:584px;width:1px;height:18px;background:#c3c3c3;"></div>
<div style="left:30px;top:601px;width:566px;height:1px;background:#c3c3c3;"></div>
<div style="left:126px;top:584px;width:1px;height:18px;background:#c3c3c3;"></div>
<div style="left:358px;top:584px;width:1px;height:18px;background:#c3c3c3;"></div>
<div style="left:421px;top:584px;width:1px;height:18px;background:#c3c3c3;"></div>
<div style="left:509px;top:584px;width:1px;height:18px;background:#c3c3c3;"></div>
<div class="ic b" style="left:45px;top:589px"></div>
<div class="t" style="left:67px;top:585px;">A1050</div>
<div class="t" style="left:130px;top:585px;">Remove Damaged Piping</div>
<div class="t r" style="left:362px;top:585px;width:56px;">1.00d</div>
<div class="t d" style="left:426px;top:585px;">08-Jun-2023 A</div>
<div class="t d" style="left:514px;top:585px;">08-Jun-2023 A</div>
<div style="left:3px;top:602px;width:13px;height:22px;background:#0000ff;"></div>
<div style="left:16px;top:602px;width:14px;height:22px;background:#80ff80;"></div>
<div style="left:16px;top:602px;width:580px;height:22px;background:#80ff80;"></div>
<div style="left:358px;top:602px;width:1px;height:22px;background:rgba(200,200,200,0.6);"></div>
<div style="left:421px;top:602px;width:1px;height:22px;background:rgba(200,200,200,0.6);"></div>
<div style="left:509px;top:602px;width:1px;height:22px;background:rgba(200,200,200,0.6);"></div>
<div class="ex" style="left:19px;top:608px"><i></i></div>
<div class="w1" style="left:32px;top:606px"></div><div class="w2" style="left:36px;top:611px"></div>
<div class="b" style="left:53px;top:603px;font-size:14px;line-height:18px;letter-spacing:0.26px;">WBS: Installation Piping System</div>
<div class="t r" style="left:362px;top:603px;width:56px;">22.00d</div>
<div class="t d" style="left:426px;top:603px;">09-Jun-2023 A</div>
<div class="t d" style="left:514px;top:603px;">10-Jul-2023</div>
<div style="left:3px;top:624px;width:13px;height:18px;background:#0000ff;"></div>
<div style="left:16px;top:624px;width:14px;height:18px;background:#80ff80;"></div>
<div style="left:30px;top:624px;width:566px;height:18px;background:#ffff00;"></div>
<div style="left:358px;top:624px;width:1px;height:18px;background:rgba(200,200,200,0.6);"></div>
<div style="left:421px;top:624px;width:1px;height:18px;background:rgba(200,200,200,0.6);"></div>
<div style="left:509px;top:624px;width:1px;height:18px;background:rgba(200,200,200,0.6);"></div>
<div class="ex" style="left:33px;top:628px"><i></i></div>
<div class="w1" style="left:46px;top:626px"></div><div class="w2" style="left:50px;top:631px"></div>
<div class="b" style="left:67px;top:626px;font-size:12px;line-height:14px;color:#0a0a9a;transform:scaleX(0.98);transform-origin:0 0;">WBS: Piping</div>
<div class="t r" style="left:362px;top:625px;width:56px;color:#0a0a8c;">17.00d</div>
<div class="t d" style="left:426px;top:625px;color:#0a0a8c;">09-Jun-2023 A</div>
<div class="t d" style="left:514px;top:625px;color:#0a0a8c;">03-Jul-2023</div>
<div style="left:3px;top:642px;width:13px;height:18px;background:#0000ff;"></div>
<div style="left:16px;top:642px;width:14px;height:18px;background:#80ff80;"></div>
<div style="left:30px;top:642px;width:14px;height:18px;background:#ffff00;"></div>
<div style="left:44px;top:642px;width:1px;height:18px;background:#c3c3c3;"></div>
<div style="left:44px;top:659px;width:552px;height:1px;background:#c3c3c3;"></div>
<div style="left:126px;top:642px;width:1px;height:18px;background:#c3c3c3;"></div>
<div style="left:358px;top:642px;width:1px;height:18px;background:#c3c3c3;"></div>
<div style="left:421px;top:642px;width:1px;height:18px;background:#c3c3c3;"></div>
<div style="left:509px;top:642px;width:1px;height:18px;background:#c3c3c3;"></div>
<div class="ic h" style="left:59px;top:647px"></div>
<div class="t" style="left:81px;top:643px;">A1060</div>
<div class="t" style="left:130px;top:643px;">Install Piping &amp; Couplings</div>
<div class="t r" style="left:362px;top:643px;width:56px;">3.00d</div>
<div class="t d" style="left:426px;top:643px;">09-Jun-2023 A</div>
<div class="t d" style="left:514px;top:643px;">19-Jun-2023</div>
<div style="left:3px;top:660px;width:13px;height:18px;background:#0000ff;"></div>
<div style="left:16px;top:660px;width:14px;height:18px;background:#80ff80;"></div>
<div style="left:30px;top:660px;width:14px;height:18px;background:#ffff00;"></div>
<div style="left:44px;top:660px;width:1px;height:18px;background:#c3c3c3;"></div>
<div style="left:44px;top:677px;width:552px;height:1px;background:#c3c3c3;"></div>
<div style="left:126px;top:660px;width:1px;height:18px;background:#c3c3c3;"></div>
<div style="left:358px;top:660px;width:1px;height:18px;background:#c3c3c3;"></div>
<div style="left:421px;top:660px;width:1px;height:18px;background:#c3c3c3;"></div>
<div style="left:509px;top:660px;width:1px;height:18px;background:#c3c3c3;"></div>
<div class="ic " style="left:59px;top:665px"></div>
<div class="t" style="left:81px;top:661px;">A1070</div>
<div class="t" style="left:130px;top:661px;">Test Piping at Pressure</div>
<div class="t r" style="left:362px;top:661px;width:56px;">1.00d</div>
<div class="t d" style="left:426px;top:661px;">20-Jun-2023</div>
<div class="t d" style="left:514px;top:661px;">20-Jun-2023</div>
<div style="left:3px;top:678px;width:13px;height:18px;background:#0000ff;"></div>
<div style="left:16px;top:678px;width:14px;height:18px;background:#80ff80;"></div>
<div style="left:30px;top:678px;width:14px;height:18px;background:#ffff00;"></div>
<div style="left:44px;top:678px;width:1px;height:18px;background:#c3c3c3;"></div>
<div style="left:44px;top:695px;width:552px;height:1px;background:#c3c3c3;"></div>
<div style="left:126px;top:678px;width:1px;height:18px;background:#c3c3c3;"></div>
<div style="left:358px;top:678px;width:1px;height:18px;background:#c3c3c3;"></div>
<div style="left:421px;top:678px;width:1px;height:18px;background:#c3c3c3;"></div>
<div style="left:509px;top:678px;width:1px;height:18px;background:#c3c3c3;"></div>
<div class="ic " style="left:59px;top:683px"></div>
<div class="t" style="left:81px;top:679px;">A1080</div>
<div class="t" style="left:130px;top:679px;">Insulate Piping</div>
<div class="t r" style="left:362px;top:679px;width:56px;">4.00d</div>
<div class="t d" style="left:426px;top:679px;">28-Jun-2023</div>
<div class="t d" style="left:514px;top:679px;">03-Jul-2023</div>
<div style="left:3px;top:696px;width:13px;height:18px;background:#0000ff;"></div>
<div style="left:16px;top:696px;width:14px;height:18px;background:#80ff80;"></div>
<div style="left:30px;top:696px;width:566px;height:18px;background:#ffff00;"></div>
<div style="left:358px;top:696px;width:1px;height:18px;background:rgba(200,200,200,0.6);"></div>
<div style="left:421px;top:696px;width:1px;height:18px;background:rgba(200,200,200,0.6);"></div>
<div style="left:509px;top:696px;width:1px;height:18px;background:rgba(200,200,200,0.6);"></div>
<div class="ex" style="left:33px;top:700px"><i></i></div>
<div class="w1" style="left:46px;top:698px"></div><div class="w2" style="left:50px;top:703px"></div>
<div class="b" style="left:67px;top:698px;font-size:12px;line-height:14px;color:#0a0a9a;transform:scaleX(0.98);transform-origin:0 0;">WBS: Thrustblock</div>
<div class="t r" style="left:362px;top:697px;width:56px;color:#0a0a8c;">9.00d</div>
<div class="t d" style="left:426px;top:697px;color:#0a0a8c;">21-Jun-2023</div>
<div class="t d" style="left:514px;top:697px;color:#0a0a8c;">03-Jul-2023</div>
<div style="left:3px;top:714px;width:13px;height:18px;background:#0000ff;"></div>
<div style="left:16px;top:714px;width:14px;height:18px;background:#80ff80;"></div>
<div style="left:30px;top:714px;width:14px;height:18px;background:#ffff00;"></div>
<div style="left:44px;top:714px;width:1px;height:18px;background:#c3c3c3;"></div>
<div style="left:44px;top:731px;width:552px;height:1px;background:#c3c3c3;"></div>
<div style="left:126px;top:714px;width:1px;height:18px;background:#c3c3c3;"></div>
<div style="left:358px;top:714px;width:1px;height:18px;background:#c3c3c3;"></div>
<div style="left:421px;top:714px;width:1px;height:18px;background:#c3c3c3;"></div>
<div style="left:509px;top:714px;width:1px;height:18px;background:#c3c3c3;"></div>
<div class="ic " style="left:59px;top:719px"></div>
<div class="t" style="left:81px;top:715px;">A1090</div>
<div class="t" style="left:130px;top:715px;">Set Forms</div>
<div class="t r" style="left:362px;top:715px;width:56px;">1.00d</div>
<div class="t d" style="left:426px;top:715px;">21-Jun-2023</div>
<div class="t d" style="left:514px;top:715px;">21-Jun-2023</div>
<div style="left:3px;top:732px;width:13px;height:18px;background:#0000ff;"></div>
<div style="left:16px;top:732px;width:14px;height:18px;background:#80ff80;"></div>
<div style="left:30px;top:732px;width:14px;height:18px;background:#ffff00;"></div>
<div style="left:44px;top:732px;width:1px;height:18px;background:#c3c3c3;"></div>
<div style="left:44px;top:749px;width:552px;height:1px;background:#c3c3c3;"></div>
<div style="left:126px;top:732px;width:1px;height:18px;background:#c3c3c3;"></div>
<div style="left:358px;top:732px;width:1px;height:18px;background:#c3c3c3;"></div>
<div style="left:421px;top:732px;width:1px;height:18px;background:#c3c3c3;"></div>
<div style="left:509px;top:732px;width:1px;height:18px;background:#c3c3c3;"></div>
<div class="ic " style="left:59px;top:737px"></div>
<div class="t" style="left:81px;top:733px;">A1100</div>
<div class="t" style="left:130px;top:733px;">Lay Rebar</div>
<div class="t r" style="left:362px;top:733px;width:56px;">1.00d</div>
<div class="t d" style="left:426px;top:733px;">22-Jun-2023</div>
<div class="t d" style="left:514px;top:733px;">22-Jun-2023</div>
<div style="left:3px;top:750px;width:13px;height:18px;background:#0000ff;"></div>
<div style="left:16px;top:750px;width:14px;height:18px;background:#80ff80;"></div>
<div style="left:30px;top:750px;width:14px;height:18px;background:#ffff00;"></div>
<div style="left:44px;top:750px;width:1px;height:18px;background:#c3c3c3;"></div>
<div style="left:44px;top:767px;width:552px;height:1px;background:#c3c3c3;"></div>
<div style="left:126px;top:750px;width:1px;height:18px;background:#c3c3c3;"></div>
<div style="left:358px;top:750px;width:1px;height:18px;background:#c3c3c3;"></div>
<div style="left:421px;top:750px;width:1px;height:18px;background:#c3c3c3;"></div>
<div style="left:509px;top:750px;width:1px;height:18px;background:#c3c3c3;"></div>
<div class="ic " style="left:59px;top:755px"></div>
<div class="t" style="left:81px;top:751px;">A1102</div>
<div class="t" style="left:130px;top:751px;">New Activity</div>
<div class="t r" style="left:362px;top:751px;width:56px;">4.00d</div>
<div class="t d" style="left:426px;top:751px;">23-Jun-2023</div>
<div class="t d" style="left:514px;top:751px;">28-Jun-2023</div>
<div style="left:3px;top:768px;width:13px;height:18px;background:#0000ff;"></div>
<div style="left:16px;top:768px;width:14px;height:18px;background:#80ff80;"></div>
<div style="left:30px;top:768px;width:14px;height:18px;background:#ffff00;"></div>
<div style="left:44px;top:768px;width:1px;height:18px;background:#c3c3c3;"></div>
<div style="left:44px;top:785px;width:552px;height:1px;background:#c3c3c3;"></div>
<div style="left:126px;top:768px;width:1px;height:18px;background:#c3c3c3;"></div>
<div style="left:358px;top:768px;width:1px;height:18px;background:#c3c3c3;"></div>
<div style="left:421px;top:768px;width:1px;height:18px;background:#c3c3c3;"></div>
<div style="left:509px;top:768px;width:1px;height:18px;background:#c3c3c3;"></div>
<div class="ic " style="left:59px;top:773px"></div>
<div class="t" style="left:81px;top:769px;">A1110</div>
<div class="t" style="left:130px;top:769px;">Pour Concrete</div>
<div class="t r" style="left:362px;top:769px;width:56px;">1.00d</div>
<div class="t d" style="left:426px;top:769px;">29-Jun-2023</div>
<div class="t d" style="left:514px;top:769px;">29-Jun-2023</div>
<div style="left:3px;top:786px;width:13px;height:18px;background:#0000ff;"></div>
<div style="left:16px;top:786px;width:14px;height:18px;background:#80ff80;"></div>
<div style="left:30px;top:786px;width:14px;height:18px;background:#ffff00;"></div>
<div style="left:44px;top:786px;width:1px;height:18px;background:#c3c3c3;"></div>
<div style="left:44px;top:803px;width:552px;height:1px;background:#c3c3c3;"></div>
<div style="left:126px;top:786px;width:1px;height:18px;background:#c3c3c3;"></div>
<div style="left:358px;top:786px;width:1px;height:18px;background:#c3c3c3;"></div>
<div style="left:421px;top:786px;width:1px;height:18px;background:#c3c3c3;"></div>
<div style="left:509px;top:786px;width:1px;height:18px;background:#c3c3c3;"></div>
<div class="ic " style="left:59px;top:791px"></div>
<div class="t" style="left:81px;top:787px;">A1120</div>
<div class="t" style="left:130px;top:787px;">Strike Forms</div>
<div class="t r" style="left:362px;top:787px;width:56px;">1.00d</div>
<div class="t d" style="left:426px;top:787px;">03-Jul-2023</div>
<div class="t d" style="left:514px;top:787px;">03-Jul-2023</div>
<div style="left:3px;top:804px;width:13px;height:18px;background:#0000ff;"></div>
<div style="left:16px;top:804px;width:14px;height:18px;background:#80ff80;"></div>
<div style="left:30px;top:804px;width:566px;height:18px;background:#ffff00;"></div>
<div style="left:358px;top:804px;width:1px;height:18px;background:rgba(200,200,200,0.6);"></div>
<div style="left:421px;top:804px;width:1px;height:18px;background:rgba(200,200,200,0.6);"></div>
<div style="left:509px;top:804px;width:1px;height:18px;background:rgba(200,200,200,0.6);"></div>
<div class="ex" style="left:33px;top:808px"><i></i></div>
<div class="w1" style="left:46px;top:806px"></div><div class="w2" style="left:50px;top:811px"></div>
<div class="b" style="left:67px;top:806px;font-size:12px;line-height:14px;color:#0a0a9a;transform:scaleX(0.98);transform-origin:0 0;">WBS: Quality Assuarance</div>
<div class="t r" style="left:362px;top:805px;width:56px;color:#0a0a8c;">5.00d</div>
<div class="t d" style="left:426px;top:805px;color:#0a0a8c;">04-Jul-2023</div>
<div class="t d" style="left:514px;top:805px;color:#0a0a8c;">10-Jul-2023</div>
<div style="left:3px;top:822px;width:13px;height:18px;background:#0000ff;"></div>
<div style="left:16px;top:822px;width:14px;height:18px;background:#80ff80;"></div>
<div style="left:30px;top:822px;width:14px;height:18px;background:#ffff00;"></div>
<div style="left:44px;top:822px;width:1px;height:18px;background:#c3c3c3;"></div>
<div style="left:44px;top:839px;width:552px;height:1px;background:#c3c3c3;"></div>
<div style="left:126px;top:822px;width:1px;height:18px;background:#c3c3c3;"></div>
<div style="left:358px;top:822px;width:1px;height:18px;background:#c3c3c3;"></div>
<div style="left:421px;top:822px;width:1px;height:18px;background:#c3c3c3;"></div>
<div style="left:509px;top:822px;width:1px;height:18px;background:#c3c3c3;"></div>
<div class="ic " style="left:59px;top:827px"></div>
<div class="t" style="left:81px;top:823px;">A1130</div>
<div class="t" style="left:130px;top:823px;">Write Quality Assurance Report</div>
<div class="t r" style="left:362px;top:823px;width:56px;">4.00d</div>
<div class="t d" style="left:426px;top:823px;">04-Jul-2023</div>
<div class="t d" style="left:514px;top:823px;">07-Jul-2023</div>
<div style="left:16px;top:62px;width:580px;height:1px;background:#c3c3c3;"></div>
<div style="left:30px;top:156px;width:566px;height:1px;background:#c3c3c3;"></div>
<div style="left:44px;top:232px;width:552px;height:1px;background:#c3c3c3;"></div>
<div style="left:44px;top:304px;width:552px;height:1px;background:#c3c3c3;"></div>
<div style="left:44px;top:412px;width:552px;height:1px;background:#c3c3c3;"></div>
<div style="left:16px;top:472px;width:580px;height:1px;background:#c3c3c3;"></div>
<div style="left:30px;top:566px;width:566px;height:1px;background:#c3c3c3;"></div>
<div style="left:44px;top:642px;width:552px;height:1px;background:#c3c3c3;"></div>
<div style="left:44px;top:714px;width:552px;height:1px;background:#c3c3c3;"></div>
<div style="left:44px;top:822px;width:552px;height:1px;background:#c3c3c3;"></div>
<div style="left:596px;top:38px;width:1px;height:802px;background:#a0a0a0;"></div>
<div style="left:597px;top:3px;width:6px;height:837px;background:#fff;"></div>
<div style="left:597px;top:3px;width:1px;height:837px;background:#d8d8d8;"></div>
<div style="left:601px;top:3px;width:2px;height:837px;background:#a0a0a0;"></div>
<div style="left:603px;top:3px;width:611px;height:837px;background:#fff;"></div>
<div class="hd" style="left:603px;top:3px;width:611px;height:34px;"></div>
<div style="left:603px;top:3px;width:1px;height:35px;background:#000;"></div>
<div style="left:603px;top:19px;width:611px;height:1px;background:#000;"></div>
<div style="left:603px;top:37px;width:611px;height:1px;background:#000;"></div>
<div style="left:604px;top:3px;width:610px;height:1px;background:#fff;"></div>
<div style="left:604px;top:20px;width:610px;height:1px;background:#fff;"></div>
<div style="left:616px;top:20px;width:1px;height:17px;background:#000;"></div>
<div style="left:617px;top:21px;width:1px;height:16px;background:#fff;"></div>
<div style="left:690px;top:20px;width:1px;height:17px;background:#000;"></div>
<div style="left:691px;top:21px;width:1px;height:16px;background:#fff;"></div>
<div style="left:765px;top:20px;width:1px;height:17px;background:#000;"></div>
<div style="left:766px;top:21px;width:1px;height:16px;background:#fff;"></div>
<div style="left:840px;top:20px;width:1px;height:17px;background:#000;"></div>
<div style="left:841px;top:21px;width:1px;height:16px;background:#fff;"></div>
<div style="left:914px;top:20px;width:1px;height:17px;background:#000;"></div>
<div style="left:915px;top:21px;width:1px;height:16px;background:#fff;"></div>
<div style="left:989px;top:20px;width:1px;height:17px;background:#000;"></div>
<div style="left:990px;top:21px;width:1px;height:16px;background:#fff;"></div>
<div style="left:1064px;top:20px;width:1px;height:17px;background:#000;"></div>
<div style="left:1065px;top:21px;width:1px;height:16px;background:#fff;"></div>
<div style="left:1138px;top:20px;width:1px;height:17px;background:#000;"></div>
<div style="left:1139px;top:21px;width:1px;height:16px;background:#fff;"></div>
<div style="left:904px;top:3px;width:1px;height:16px;background:#000;"></div>
<div style="left:905px;top:4px;width:1px;height:15px;background:#fff;"></div>
<div class="h" style="left:719px;top:3px;letter-spacing:-0.2px;">June 2023</div>
<div class="h" style="left:1046px;top:3px;letter-spacing:-0.2px;">July 2023</div>
<div class="h c" style="left:617px;top:21px;width:74px;">04</div>
<div class="h c" style="left:691px;top:21px;width:74px;">11</div>
<div class="h c" style="left:766px;top:21px;width:74px;">18</div>
<div class="h c" style="left:841px;top:21px;width:74px;">25</div>
<div class="h c" style="left:915px;top:21px;width:74px;">02</div>
<div class="h c" style="left:990px;top:21px;width:74px;">09</div>
<div class="h c" style="left:1065px;top:21px;width:74px;">16</div>
<div class="h c" style="left:1139px;top:21px;width:74px;">23</div>
<svg width="1217" height="843" viewBox="0 0 1217 843" shape-rendering="crispEdges">
<path d="M603 61.5 H1214" stroke="#b0b0b0" stroke-dasharray="3 3" fill="none"/>
<path d="M603 79.5 H1214" stroke="#b0b0b0" stroke-dasharray="3 3" fill="none"/>
<path d="M603 97.5 H1214" stroke="#b0b0b0" stroke-dasharray="3 3" fill="none"/>
<path d="M603 115.5 H1214" stroke="#b0b0b0" stroke-dasharray="3 3" fill="none"/>
<path d="M603 133.5 H1214" stroke="#b0b0b0" stroke-dasharray="3 3" fill="none"/>
<path d="M603 155.5 H1214" stroke="#b0b0b0" stroke-dasharray="3 3" fill="none"/>
<path d="M603 173.5 H1214" stroke="#b0b0b0" stroke-dasharray="3 3" fill="none"/>
<path d="M603 191.5 H1214" stroke="#b0b0b0" stroke-dasharray="3 3" fill="none"/>
<path d="M603 213.5 H1214" stroke="#b0b0b0" stroke-dasharray="3 3" fill="none"/>
<path d="M603 231.5 H1214" stroke="#b0b0b0" stroke-dasharray="3 3" fill="none"/>
<path d="M603 249.5 H1214" stroke="#b0b0b0" stroke-dasharray="3 3" fill="none"/>
<path d="M603 267.5 H1214" stroke="#b0b0b0" stroke-dasharray="3 3" fill="none"/>
<path d="M603 285.5 H1214" stroke="#b0b0b0" stroke-dasharray="3 3" fill="none"/>
<path d="M603 303.5 H1214" stroke="#b0b0b0" stroke-dasharray="3 3" fill="none"/>
<path d="M603 321.5 H1214" stroke="#b0b0b0" stroke-dasharray="3 3" fill="none"/>
<path d="M603 339.5 H1214" stroke="#b0b0b0" stroke-dasharray="3 3" fill="none"/>
<path d="M603 357.5 H1214" stroke="#b0b0b0" stroke-dasharray="3 3" fill="none"/>
<path d="M603 375.5 H1214" stroke="#b0b0b0" stroke-dasharray="3 3" fill="none"/>
<path d="M603 393.5 H1214" stroke="#b0b0b0" stroke-dasharray="3 3" fill="none"/>
<path d="M603 411.5 H1214" stroke="#b0b0b0" stroke-dasharray="3 3" fill="none"/>
<path d="M603 429.5 H1214" stroke="#b0b0b0" stroke-dasharray="3 3" fill="none"/>
<path d="M603 447.5 H1214" stroke="#b0b0b0" stroke-dasharray="3 3" fill="none"/>
<path d="M603 471.5 H1214" stroke="#b0b0b0" stroke-dasharray="3 3" fill="none"/>
<path d="M603 489.5 H1214" stroke="#b0b0b0" stroke-dasharray="3 3" fill="none"/>
<path d="M603 507.5 H1214" stroke="#b0b0b0" stroke-dasharray="3 3" fill="none"/>
<path d="M603 525.5 H1214" stroke="#b0b0b0" stroke-dasharray="3 3" fill="none"/>
<path d="M603 543.5 H1214" stroke="#b0b0b0" stroke-dasharray="3 3" fill="none"/>
<path d="M603 565.5 H1214" stroke="#b0b0b0" stroke-dasharray="3 3" fill="none"/>
<path d="M603 583.5 H1214" stroke="#b0b0b0" stroke-dasharray="3 3" fill="none"/>
<path d="M603 601.5 H1214" stroke="#b0b0b0" stroke-dasharray="3 3" fill="none"/>
<path d="M603 623.5 H1214" stroke="#b0b0b0" stroke-dasharray="3 3" fill="none"/>
<path d="M603 641.5 H1214" stroke="#b0b0b0" stroke-dasharray="3 3" fill="none"/>
<path d="M603 659.5 H1214" stroke="#b0b0b0" stroke-dasharray="3 3" fill="none"/>
<path d="M603 677.5 H1214" stroke="#b0b0b0" stroke-dasharray="3 3" fill="none"/>
<path d="M603 695.5 H1214" stroke="#b0b0b0" stroke-dasharray="3 3" fill="none"/>
<path d="M603 713.5 H1214" stroke="#b0b0b0" stroke-dasharray="3 3" fill="none"/>
<path d="M603 731.5 H1214" stroke="#b0b0b0" stroke-dasharray="3 3" fill="none"/>
<path d="M603 749.5 H1214" stroke="#b0b0b0" stroke-dasharray="3 3" fill="none"/>
<path d="M603 767.5 H1214" stroke="#b0b0b0" stroke-dasharray="3 3" fill="none"/>
<path d="M603 785.5 H1214" stroke="#b0b0b0" stroke-dasharray="3 3" fill="none"/>
<path d="M603 803.5 H1214" stroke="#b0b0b0" stroke-dasharray="3 3" fill="none"/>
<path d="M603 821.5 H1214" stroke="#b0b0b0" stroke-dasharray="3 3" fill="none"/>
<path d="M603 839.5 H1214" stroke="#b0b0b0" stroke-dasharray="3 3" fill="none"/>
<path d="M616.5 38 V840" stroke="#b0b0b0" stroke-dasharray="3 3" fill="none"/>
<path d="M690.5 38 V840" stroke="#b0b0b0" stroke-dasharray="3 3" fill="none"/>
<path d="M765.5 38 V840" stroke="#b0b0b0" stroke-dasharray="3 3" fill="none"/>
<path d="M840.5 38 V840" stroke="#b0b0b0" stroke-dasharray="3 3" fill="none"/>
<path d="M914.5 38 V840" stroke="#b0b0b0" stroke-dasharray="3 3" fill="none"/>
<path d="M989.5 38 V840" stroke="#b0b0b0" stroke-dasharray="3 3" fill="none"/>
<path d="M1064.5 38 V840" stroke="#b0b0b0" stroke-dasharray="3 3" fill="none"/>
<path d="M1138.5 38 V840" stroke="#b0b0b0" stroke-dasharray="3 3" fill="none"/>
<path d="M904.5 38 V840" stroke="#808080" fill="none"/>
<path d="M651.5 92.5 L651.5 95.5 L638.5 95.5 L638.5 104.5 L643.5 104.5" stroke="#000" fill="none"/>
<path d="M642 102h3v1h2v1h4v1h-4v1h-2v1h-3z" fill="#000"/>
<path d="M974.5 108.5 L974.5 111.5 L988.5 111.5 L988.5 122.5 L975.5 122.5" stroke="#000" fill="none"/>
<path d="M986 120h-3v1h-2v1h-4v1h4v1h2v1h3z" fill="#f40000"/>
<path d="M630.5 74.5 L630.5 77.5 L638.5 77.5 L638.5 86.5 L643.5 86.5" stroke="#cf1a1a" fill="none"/>
<path d="M642 84h3v1h2v1h4v1h-4v1h-2v1h-3z" fill="#f40000"/>
<path d="M651.5 92.5 L651.5 95.5 L638.5 95.5 L638.5 162.5 L643.5 162.5" stroke="#cf1a1a" fill="none"/>
<path d="M642 160h3v1h2v1h4v1h-4v1h-2v1h-3z" fill="#f40000"/>
<path d="M655.5 168.5 L655.5 171.5 L649.5 171.5 L649.5 180.5 L654.5 180.5" stroke="#cf1a1a" fill="none"/>
<path d="M653 178h3v1h2v1h4v1h-4v1h-2v1h-3z" fill="#f40000"/>
<path d="M665.5 186.5 L665.5 189.5 L660.5 189.5 L660.5 238.5 L665.5 238.5" stroke="#cf1a1a" fill="none"/>
<path d="M664 236h3v1h2v1h4v1h-4v1h-2v1h-3z" fill="#f40000"/>
<path d="M719.5 244.5 L719.5 247.5 L713.5 247.5 L713.5 256.5 L718.5 256.5" stroke="#cf1a1a" fill="none"/>
<path d="M717 254h3v1h2v1h4v1h-4v1h-2v1h-3z" fill="#f40000"/>
<path d="M729.5 262.5 L729.5 265.5 L724.5 265.5 L724.5 310.5 L729.5 310.5" stroke="#cf1a1a" fill="none"/>
<path d="M728 308h3v1h2v1h4v1h-4v1h-2v1h-3z" fill="#f40000"/>
<path d="M729.5 262.5 L729.5 265.5 L851.5 265.5 L851.5 274.5 L856.5 274.5" stroke="#cf1a1a" fill="none"/>
<path d="M855 272h3v1h2v1h4v1h-4v1h-2v1h-3z" fill="#f40000"/>
<path d="M740.5 316.5 L740.5 319.5 L734.5 319.5 L734.5 328.5 L739.5 328.5" stroke="#cf1a1a" fill="none"/>
<path d="M738 326h3v1h2v1h4v1h-4v1h-2v1h-3z" fill="#f40000"/>
<path d="M751.5 334.5 L751.5 337.5 L766.5 337.5 L766.5 346.5 L771.5 346.5" stroke="#cf1a1a" fill="none"/>
<path d="M770 344h3v1h2v1h4v1h-4v1h-2v1h-3z" fill="#f40000"/>
<path d="M825.5 352.5 L825.5 355.5 L841.5 355.5 L841.5 364.5 L846.5 364.5" stroke="#cf1a1a" fill="none"/>
<path d="M845 362h3v1h2v1h4v1h-4v1h-2v1h-3z" fill="#f40000"/>
<path d="M857.5 370.5 L857.5 373.5 L883.5 373.5 L883.5 382.5 L888.5 382.5" stroke="#cf1a1a" fill="none"/>
<path d="M887 380h3v1h2v1h4v1h-4v1h-2v1h-3z" fill="#f40000"/>
<path d="M900.5 379.5 L900.5 374.5 L913.5 374.5 L913.5 274.5 L900.5 274.5" stroke="#cf1a1a" fill="none"/>
<path d="M911 272h-3v1h-2v1h-4v1h4v1h2v1h3z" fill="#f40000"/>
<path d="M900.5 280.5 L900.5 283.5 L915.5 283.5 L915.5 418.5 L920.5 418.5" stroke="#cf1a1a" fill="none"/>
<path d="M919 416h3v1h2v1h4v1h-4v1h-2v1h-3z" fill="#f40000"/>
<path d="M964.5 424.5 L964.5 427.5 L958.5 427.5 L958.5 436.5 L963.5 436.5" stroke="#cf1a1a" fill="none"/>
<path d="M962 434h3v1h2v1h4v1h-4v1h-2v1h-3z" fill="#f40000"/>
<path d="M974.5 433.5 L974.5 429.5 L988.5 429.5 L988.5 122.5 L975.5 122.5" stroke="#cf1a1a" fill="none"/>
<path d="M986 120h-3v1h-2v1h-4v1h4v1h2v1h3z" fill="#f40000"/>
<path d="M630.5 484.5 L630.5 487.5 L638.5 487.5 L638.5 496.5 L643.5 496.5" stroke="#000" fill="none"/>
<path d="M642 494h3v1h2v1h4v1h-4v1h-2v1h-3z" fill="#000"/>
<path d="M651.5 502.5 L651.5 505.5 L638.5 505.5 L638.5 514.5 L643.5 514.5" stroke="#000" fill="none"/>
<path d="M642 512h3v1h2v1h4v1h-4v1h-2v1h-3z" fill="#000"/>
<path d="M651.5 502.5 L651.5 505.5 L638.5 505.5 L638.5 572.5 L643.5 572.5" stroke="#000" fill="none"/>
<path d="M642 570h3v1h2v1h4v1h-4v1h-2v1h-3z" fill="#000"/>
<path d="M655.5 578.5 L655.5 581.5 L649.5 581.5 L649.5 590.5 L654.5 590.5" stroke="#000" fill="none"/>
<path d="M653 588h3v1h2v1h4v1h-4v1h-2v1h-3z" fill="#000"/>
<path d="M665.5 596.5 L665.5 599.5 L660.5 599.5 L660.5 648.5 L665.5 648.5" stroke="#000" fill="none"/>
<path d="M664 646h3v1h2v1h4v1h-4v1h-2v1h-3z" fill="#000"/>
<path d="M1006.5 518.5 L1006.5 521.5 L1020.5 521.5 L1020.5 532.5 L1007.5 532.5" stroke="#000" fill="none"/>
<path d="M1018 530h-3v1h-2v1h-4v1h4v1h2v1h3z" fill="#f40000"/>
<path d="M783.5 654.5 L783.5 657.5 L777.5 657.5 L777.5 666.5 L782.5 666.5" stroke="#cf1a1a" fill="none"/>
<path d="M781 664h3v1h2v1h4v1h-4v1h-2v1h-3z" fill="#f40000"/>
<path d="M793.5 672.5 L793.5 675.5 L788.5 675.5 L788.5 720.5 L793.5 720.5" stroke="#cf1a1a" fill="none"/>
<path d="M792 718h3v1h2v1h4v1h-4v1h-2v1h-3z" fill="#f40000"/>
<path d="M793.5 672.5 L793.5 675.5 L862.5 675.5 L862.5 684.5 L867.5 684.5" stroke="#cf1a1a" fill="none"/>
<path d="M866 682h3v1h2v1h4v1h-4v1h-2v1h-3z" fill="#f40000"/>
<path d="M804.5 726.5 L804.5 729.5 L798.5 729.5 L798.5 738.5 L803.5 738.5" stroke="#cf1a1a" fill="none"/>
<path d="M802 736h3v1h2v1h4v1h-4v1h-2v1h-3z" fill="#f40000"/>
<path d="M815.5 744.5 L815.5 747.5 L809.5 747.5 L809.5 756.5 L814.5 756.5" stroke="#cf1a1a" fill="none"/>
<path d="M813 754h3v1h2v1h4v1h-4v1h-2v1h-3z" fill="#f40000"/>
<path d="M879.5 762.5 L879.5 765.5 L873.5 765.5 L873.5 774.5 L878.5 774.5" stroke="#cf1a1a" fill="none"/>
<path d="M877 772h3v1h2v1h4v1h-4v1h-2v1h-3z" fill="#f40000"/>
<path d="M889.5 780.5 L889.5 783.5 L915.5 783.5 L915.5 792.5 L920.5 792.5" stroke="#cf1a1a" fill="none"/>
<path d="M919 790h3v1h2v1h4v1h-4v1h-2v1h-3z" fill="#f40000"/>
<path d="M932.5 789.5 L932.5 784.5 L945.5 784.5 L945.5 684.5 L932.5 684.5" stroke="#cf1a1a" fill="none"/>
<path d="M943 682h-3v1h-2v1h-4v1h4v1h2v1h3z" fill="#f40000"/>
<path d="M932.5 690.5 L932.5 693.5 L926.5 693.5 L926.5 828.5 L931.5 828.5" stroke="#cf1a1a" fill="none"/>
<path d="M930 826h3v1h2v1h4v1h-4v1h-2v1h-3z" fill="#f40000"/>
<path d="M974.5 834.5 L974.5 837.5 L990.5 837.5 L990.5 840.5" stroke="#cf1a1a" fill="none"/>
<path d="M1006.5 840.5 L1006.5 839.5 L1020.5 839.5 L1020.5 532.5 L1007.5 532.5" stroke="#cf1a1a" fill="none"/>
<path d="M1018 530h-3v1h-2v1h-4v1h4v1h2v1h3z" fill="#f40000"/>
<rect shape-rendering="auto" x="630.5" y="41" width="345.0" height="5" fill="#000"/>
<path shape-rendering="auto" d="M628.0 41 H635.2 L630.5 50.6 Z" fill="#000"/>
<path shape-rendering="auto" d="M970.8 41 H980.2 L975.5 50.6 Z" fill="#000"/>
<rect shape-rendering="auto" x="651.8" y="137" width="14.7" height="5" fill="#000"/>
<path shape-rendering="auto" d="M647.1 137 H656.5 L651.8 146.6 Z" fill="#000"/>
<path shape-rendering="auto" d="M661.8 137 H671.2 L666.5 146.6 Z" fill="#000"/>
<rect shape-rendering="auto" x="673.1" y="195" width="302.4" height="5" fill="#000"/>
<path shape-rendering="auto" d="M668.4 195 H677.8 L673.1 204.6 Z" fill="#000"/>
<path shape-rendering="auto" d="M970.8 195 H980.2 L975.5 204.6 Z" fill="#000"/>
<rect shape-rendering="auto" x="673.1" y="217" width="227.8" height="5" fill="#000"/>
<path shape-rendering="auto" d="M668.4 217 H677.8 L673.1 226.6 Z" fill="#000"/>
<path shape-rendering="auto" d="M896.2 217 H905.6 L900.9 226.6 Z" fill="#000"/>
<rect shape-rendering="auto" x="737.1" y="289" width="163.9" height="5" fill="#000"/>
<path shape-rendering="auto" d="M732.4 289 H741.8 L737.1 298.6 Z" fill="#000"/>
<path shape-rendering="auto" d="M896.2 289 H905.6 L900.9 298.6 Z" fill="#000"/>
<rect shape-rendering="auto" x="928.9" y="397" width="46.6" height="5" fill="#000"/>
<path shape-rendering="auto" d="M924.2 397 H933.6 L928.9 406.6 Z" fill="#000"/>
<path shape-rendering="auto" d="M970.8 397 H980.2 L975.5 406.6 Z" fill="#000"/>
<rect shape-rendering="auto" x="630.5" y="451" width="377.0" height="5" fill="#000"/>
<path shape-rendering="auto" d="M628.0 451 H635.2 L630.5 460.6 Z" fill="#000"/>
<path shape-rendering="auto" d="M1002.8 451 H1012.2 L1007.5 460.6 Z" fill="#000"/>
<rect shape-rendering="auto" x="651.8" y="547" width="14.7" height="5" fill="#000"/>
<path shape-rendering="auto" d="M647.1 547 H656.5 L651.8 556.6 Z" fill="#000"/>
<path shape-rendering="auto" d="M661.8 547 H671.2 L666.5 556.6 Z" fill="#000"/>
<rect shape-rendering="auto" x="673.1" y="605" width="334.4" height="5" fill="#000"/>
<path shape-rendering="auto" d="M668.4 605 H677.8 L673.1 614.6 Z" fill="#000"/>
<path shape-rendering="auto" d="M1002.8 605 H1012.2 L1007.5 614.6 Z" fill="#000"/>
<rect shape-rendering="auto" x="673.1" y="627" width="259.8" height="5" fill="#000"/>
<path shape-rendering="auto" d="M668.4 627 H677.8 L673.1 636.6 Z" fill="#000"/>
<path shape-rendering="auto" d="M928.2 627 H937.6 L932.9 636.6 Z" fill="#000"/>
<rect shape-rendering="auto" x="801.0" y="699" width="131.9" height="5" fill="#000"/>
<path shape-rendering="auto" d="M796.3 699 H805.7 L801.0 708.6 Z" fill="#000"/>
<path shape-rendering="auto" d="M928.2 699 H937.6 L932.9 708.6 Z" fill="#000"/>
<rect shape-rendering="auto" x="939.6" y="807" width="67.9" height="5" fill="#000"/>
<path shape-rendering="auto" d="M934.9 807 H944.3 L939.6 816.6 Z" fill="#000"/>
<path shape-rendering="auto" d="M1002.8 807 H1012.2 L1007.5 816.6 Z" fill="#000"/>
<rect shape-rendering="auto" x="651.3" y="103" width="324.2" height="5" fill="#008000"/>
<rect shape-rendering="auto" x="651.8" y="159.5" width="3.5" height="8" fill="#f00d0d" stroke="#2a0000" stroke-width="1"/>
<rect shape-rendering="auto" x="662.5" y="177.5" width="3.5" height="8" fill="#f00d0d" stroke="#2a0000" stroke-width="1"/>
<rect shape-rendering="auto" x="673.1" y="235.5" width="46.1" height="8" fill="#f00d0d" stroke="#2a0000" stroke-width="1"/>
<rect shape-rendering="auto" x="726.4" y="253.5" width="3.5" height="8" fill="#f00d0d" stroke="#2a0000" stroke-width="1"/>
<rect shape-rendering="auto" x="865.0" y="271.5" width="35.5" height="8" fill="#f00d0d" stroke="#2a0000" stroke-width="1"/>
<rect shape-rendering="auto" x="737.1" y="307.5" width="3.5" height="8" fill="#f00d0d" stroke="#2a0000" stroke-width="1"/>
<rect shape-rendering="auto" x="747.7" y="325.5" width="3.5" height="8" fill="#f00d0d" stroke="#2a0000" stroke-width="1"/>
<rect shape-rendering="auto" x="779.7" y="343.5" width="46.1" height="8" fill="#f00d0d" stroke="#2a0000" stroke-width="1"/>
<rect shape-rendering="auto" x="854.3" y="361.5" width="3.5" height="8" fill="#f00d0d" stroke="#2a0000" stroke-width="1"/>
<rect shape-rendering="auto" x="896.9" y="379.5" width="3.5" height="8" fill="#f00d0d" stroke="#2a0000" stroke-width="1"/>
<rect shape-rendering="auto" x="928.9" y="415.5" width="35.5" height="8" fill="#f00d0d" stroke="#2a0000" stroke-width="1"/>
<rect shape-rendering="auto" x="971.5" y="433.5" width="3.5" height="8" fill="#f00d0d" stroke="#2a0000" stroke-width="1"/>
<rect shape-rendering="auto" x="651.3" y="513" width="114.7" height="5" fill="#000080"/>
<rect shape-rendering="auto" x="779.2" y="513" width="228.3" height="5" fill="#008000"/>
<rect shape-rendering="auto" x="651.8" y="569.5" width="3.5" height="8" fill="#0000e6" stroke="#000" stroke-width="1"/>
<rect shape-rendering="auto" x="662.5" y="587.5" width="3.5" height="8" fill="#0000e6" stroke="#000" stroke-width="1"/>
<rect shape-rendering="auto" x="673.1" y="645.5" width="92.4" height="8" fill="#0000e6" stroke="#000" stroke-width="1"/>
<rect shape-rendering="auto" x="779.7" y="645.5" width="3.5" height="8" fill="#f00d0d" stroke="#2a0000" stroke-width="1"/>
<rect shape-rendering="auto" x="790.4" y="663.5" width="3.5" height="8" fill="#f00d0d" stroke="#2a0000" stroke-width="1"/>
<rect shape-rendering="auto" x="875.6" y="681.5" width="56.8" height="8" fill="#f00d0d" stroke="#2a0000" stroke-width="1"/>
<rect shape-rendering="auto" x="801.0" y="717.5" width="3.5" height="8" fill="#f00d0d" stroke="#2a0000" stroke-width="1"/>
<rect shape-rendering="auto" x="811.7" y="735.5" width="3.5" height="8" fill="#f00d0d" stroke="#2a0000" stroke-width="1"/>
<rect shape-rendering="auto" x="822.3" y="753.5" width="56.8" height="8" fill="#f00d0d" stroke="#2a0000" stroke-width="1"/>
<rect shape-rendering="auto" x="886.3" y="771.5" width="3.5" height="8" fill="#f00d0d" stroke="#2a0000" stroke-width="1"/>
<rect shape-rendering="auto" x="928.9" y="789.5" width="3.5" height="8" fill="#f00d0d" stroke="#2a0000" stroke-width="1"/>
<rect shape-rendering="auto" x="939.6" y="825.5" width="35.5" height="8" fill="#f00d0d" stroke="#2a0000" stroke-width="1"/>
<path shape-rendering="auto" d="M625.7 69.5 L630.5 64.7 L635.3 69.5 L630.5 74.3 Z" fill="#000"/>
<path shape-rendering="auto" d="M647.0 87.5 L651.8 82.7 L656.6 87.5 L651.8 92.3 Z" fill="#000"/>
<path shape-rendering="auto" d="M970.7 123.5 L975.5 118.7 L980.3 123.5 L975.5 128.3 Z" fill="#000"/>
<path shape-rendering="auto" d="M625.7 479.5 L630.5 474.7 L635.3 479.5 L630.5 484.3 Z" fill="#000"/>
<path shape-rendering="auto" d="M647.0 497.5 L651.8 492.7 L656.6 497.5 L651.8 502.3 Z" fill="#000"/>
<path shape-rendering="auto" d="M1002.7 533.5 L1007.5 528.7 L1012.3 533.5 L1007.5 538.3 Z" fill="#000"/>
<rect x="624" y="38" width="4" height="802" fill="#0000ff"/>
</svg>
<div class="t" style="left:985px;top:38px;">Project: Pipe Repairs &amp; Improvement 12</div>
<div class="t" style="left:640px;top:62px;">Contract Award Date, 05-Jun-2023</div>
<div class="t" style="left:661px;top:80px;">Start Project, 07-Jun-2023</div>
<div class="t" style="left:985px;top:98px;">Project Management</div>
<div class="t" style="left:985px;top:116px;">Project Completion Date,</div>
<div class="t" style="left:676px;top:134px;">WBS: Demolition Piping</div>
<div class="t" style="left:665px;top:156px;">Drain Piping System</div>
<div class="t" style="left:676px;top:174px;">Remove Damaged Piping</div>
<div class="t" style="left:985px;top:192px;">WBS: Installation Piping System</div>
<div class="t" style="left:910px;top:214px;">WBS: Piping</div>
<div class="t" style="left:729px;top:232px;">Install Piping &amp; Couplings</div>
<div class="t" style="left:740px;top:250px;">Test Piping at Pressure</div>
<div class="t" style="left:910px;top:268px;">Insulate Piping</div>
<div class="t" style="left:910px;top:286px;">WBS: Thrustblock</div>
<div class="t" style="left:750px;top:304px;">Set Forms</div>
<div class="t" style="left:761px;top:322px;">Lay Rebar</div>
<div class="t" style="left:836px;top:340px;">New Activity</div>
<div class="t" style="left:868px;top:358px;">Pour Concrete</div>
<div class="t" style="left:910px;top:376px;">Strike Forms</div>
<div class="t" style="left:985px;top:394px;">WBS: Quality Assuarance</div>
<div class="t" style="left:974px;top:412px;">Write Quality Assurance Report</div>
<div class="t" style="left:985px;top:430px;">Final Quality Assurance Inspection</div>
<div class="t" style="left:1017px;top:448px;">Project: Pipe Repairs &amp; Improvement 13</div>
<div class="t" style="left:640px;top:472px;">Contract Award Date, 05-Jun-2023 A</div>
<div class="t" style="left:661px;top:490px;">Start Project, 07-Jun-2023 A</div>
<div class="t" style="left:1017px;top:508px;">Project Management</div>
<div class="t" style="left:1017px;top:526px;">Project Completion Date,</div>
<div class="t" style="left:676px;top:544px;">WBS: Demolition Piping</div>
<div class="t" style="left:665px;top:566px;">Drain Piping System</div>
<div class="t" style="left:676px;top:584px;">Remove Damaged Piping</div>
<div class="t" style="left:1017px;top:602px;">WBS: Installation Piping System</div>
<div class="t" style="left:942px;top:624px;">WBS: Piping</div>
<div class="t" style="left:793px;top:642px;">Install Piping &amp; Couplings</div>
<div class="t" style="left:804px;top:660px;">Test Piping at Pressure</div>
<div class="t" style="left:942px;top:678px;">Insulate Piping</div>
<div class="t" style="left:942px;top:696px;">WBS: Thrustblock</div>
<div class="t" style="left:814px;top:714px;">Set Forms</div>
<div class="t" style="left:825px;top:732px;">Lay Rebar</div>
<div class="t" style="left:889px;top:750px;">New Activity</div>
<div class="t" style="left:900px;top:768px;">Pour Concrete</div>
<div class="t" style="left:942px;top:786px;">Strike Forms</div>
<div class="t" style="left:1017px;top:804px;">WBS: Quality Assuarance</div>
<div class="t" style="left:985px;top:822px;">Write Quality Assurance Report</div>
<div style="left:0px;top:0px;width:1217px;height:3px;background:#000;"></div>
<div style="left:0px;top:840px;width:1217px;height:3px;background:#000;"></div>
<div style="left:0px;top:0px;width:3px;height:843px;background:#000;"></div>
<div style="left:1214px;top:0px;width:3px;height:843px;background:#000;"></div>
</body></html>
